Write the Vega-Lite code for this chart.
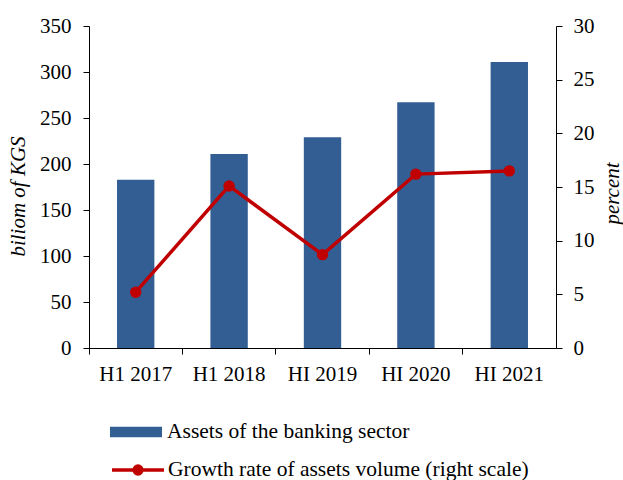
{
  "$schema": "https://vega.github.io/schema/vega-lite/v6.json",
  "width": 467,
  "height": 322,
  "autosize": {"type": "none"},
  "padding": {"left": 89, "top": 26, "right": 67, "bottom": 132},
  "background": "white",
  "config": {
    "view": {"stroke": null},
    "font": "Liberation Serif",
    "axis": {
      "labelFont": "Liberation Serif",
      "titleFont": "Liberation Serif",
      "labelFontSize": 21,
      "titleFontSize": 21,
      "labelColor": "black",
      "titleColor": "black",
      "domainColor": "black",
      "tickColor": "black",
      "grid": false,
      "titleFontWeight": "normal",
      "titleFontStyle": "italic",
      "tickSize": 6
    },
    "legend": {"labelFont": "Liberation Serif", "labelFontSize": 21.5, "labelColor": "black", "labelLimit": 0}
  },
  "data": {
    "values": [
      {"period": "H1 2017", "assets": 183, "growth": 5.2},
      {"period": "H1 2018", "assets": 211, "growth": 15.1},
      {"period": "HI 2019", "assets": 229, "growth": 8.7},
      {"period": "HI 2020", "assets": 267, "growth": 16.2},
      {"period": "HI 2021", "assets": 311, "growth": 16.5}
    ]
  },
  "encoding": {
    "x": {
      "field": "period",
      "type": "nominal",
      "sort": null,
      "scale": {"paddingInner": 0, "paddingOuter": 0},
      "axis": {"title": null, "labelAngle": 0, "bandPosition": 0, "labelPadding": 9}
    }
  },
  "layer": [
    {
      "mark": {"type": "bar", "width": {"band": 0.4}},
      "encoding": {
        "y": {
          "field": "assets",
          "type": "quantitative",
          "scale": {"domain": [0, 350]},
          "axis": {
            "title": "biliom of KGS",
            "values": [0, 50, 100, 150, 200, 250, 300, 350],
            "labelPadding": 12,
            "titleX": -71,
            "titleY": 170,
            "titleAngle": 270,
            "titleAlign": "center",
            "titleBaseline": "middle"
          }
        },
        "color": {
          "datum": "Assets of the banking sector",
          "scale": {"range": ["#325E94"]},
          "legend": {
            "orient": "none",
            "legendX": 21,
            "legendY": 380,
            "title": null,
            "symbolType": "M-1,-0.2H1V0.2H-1Z",
            "symbolSize": 2704,
            "symbolStrokeWidth": 0,
            "labelOffset": 5
          }
        }
      }
    },
    {
      "encoding": {
        "y": {
          "field": "growth",
          "type": "quantitative",
          "scale": {"domain": [0, 30]},
          "axis": {
            "orient": "right",
            "title": "percent",
            "values": [0, 5, 10, 15, 20, 25, 30],
            "labelPadding": 11,
            "titleX": 56,
            "titleY": 167,
            "titleAngle": 270,
            "titleAlign": "center",
            "titleBaseline": "middle"
          }
        }
      },
      "layer": [
        {
          "mark": {"type": "line", "strokeWidth": 3.5},
          "encoding": {
            "stroke": {
              "datum": "Growth rate of assets volume (right scale)",
              "scale": {"range": ["#C00000"]},
              "legend": {
                "orient": "none",
                "legendX": 21,
                "legendY": 416,
                "title": null,
                "symbolType": "M-1,0H1M0.15,0A0.15,0.15 0 1,1 -0.15,0A0.15,0.15 0 1,1 0.15,0",
                "symbolSize": 2704,
                "symbolStrokeWidth": 3.5,
                "labelOffset": 2,
                "encode": {"symbols": {"update": {"fill": {"value": "#C00000"}}}}
              }
            }
          }
        },
        {
          "mark": {"type": "point", "filled": true, "size": 130, "color": "#C00000", "opacity": 1}
        }
      ]
    }
  ],
  "resolve": {"scale": {"y": "independent"}}
}
